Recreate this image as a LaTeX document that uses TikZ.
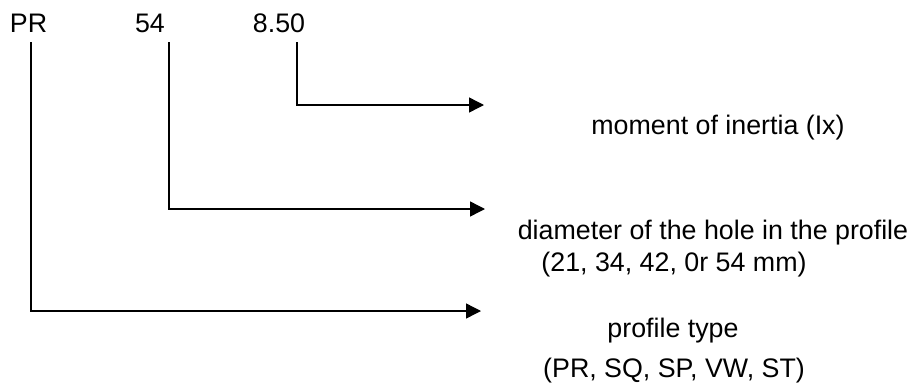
\documentclass[tikz,border=0pt]{standalone}
\usepackage{fontspec}
\setmainfont{Liberation Sans}
\usetikzlibrary{arrows.meta}
\begin{document}
\begin{tikzpicture}[x=1pt,y=-1pt,
  code/.style={anchor=base,inner sep=0pt,font=\fontsize{26.8}{30}\selectfont},
  note/.style={anchor=base,inner sep=0pt,font=\fontsize{26.8}{30}\selectfont},
  leader/.style={line width=1.4pt,-{Triangle[length=15pt,width=15pt]}}]
\useasboundingbox (0,0) rectangle (909,383);

% the three parts of the designation
\node[code] (pr)  at (28.5,32) {PR};
\node[code] (d54) at (150,32)  {54};
\node[code] (ix)  at (279,32)  {8.50};

% where each leader starts and where its arrow ends
\coordinate (pr-s)  at (31,42);
\coordinate (d54-s) at (169,42);
\coordinate (ix-s)  at (297,42);
\coordinate (ix-t)  at (484,105);
\coordinate (d54-t) at (485,209);
\coordinate (pr-t)  at (481,311);

% explanations
\node[note] (mom)  at (718,134) {moment of inertia (Ix)};
\node[note] (dia)  at (713,239) {diameter of the hole in the profile};
\node[note] (dia2) at (674,271) {(21, 34, 42, 0r 54 mm)};
\node[note] (typ)  at (673,337) {profile type};
\node[note] (typ2) at (674,377) {(PR, SQ, SP, VW, ST)};

% leaders
\draw[leader] (ix-s)  |- (ix-t);
\draw[leader] (d54-s) |- (d54-t);
\draw[leader] (pr-s)  |- (pr-t);
\end{tikzpicture}
\end{document}
